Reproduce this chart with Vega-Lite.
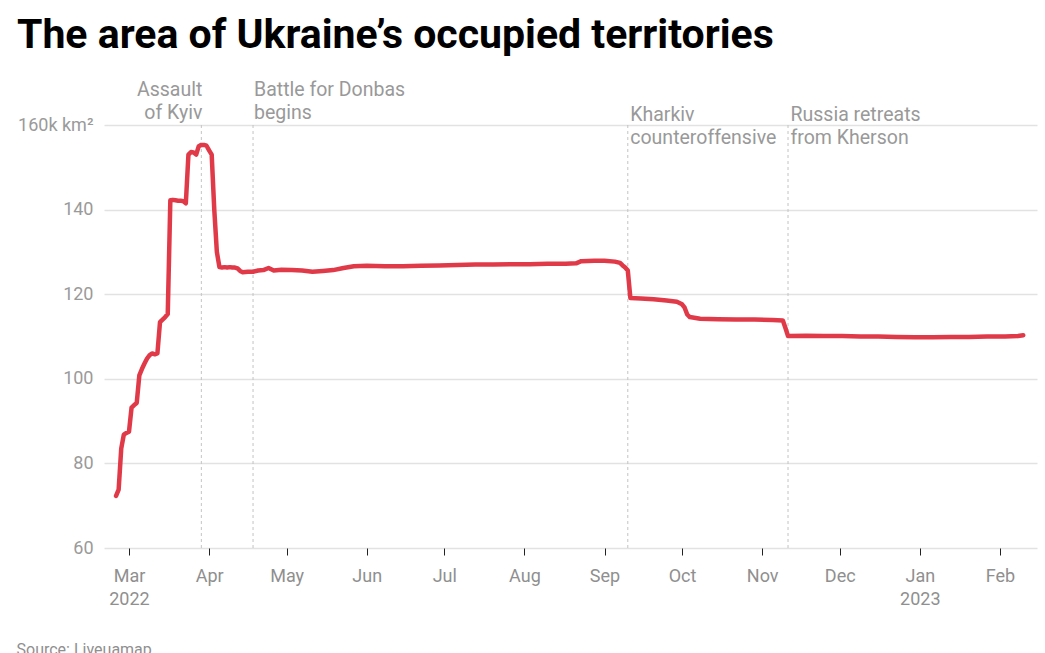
{
  "$schema": "https://vega.github.io/schema/vega-lite/v6.json",
  "width": 933,
  "height": 423,
  "autosize": {"type": "none"},
  "padding": {"left": 104, "top": 125, "right": 8, "bottom": 105},
  "background": "white",
  "title": {
    "text": "The area of Ukraine’s occupied territories",
    "anchor": "start",
    "frame": "group",
    "font": "Roboto",
    "fontSize": 41,
    "fontWeight": "bold",
    "color": "#000000",
    "dx": -87,
    "offset": 23
  },
  "config": {
    "view": {"stroke": null},
    "font": "Roboto"
  },
  "datasets": {
    "area": [
      {"date": "2022-02-24", "value": 72.3},
      {"date": "2022-02-25", "value": 73.8},
      {"date": "2022-02-26", "value": 83.5},
      {"date": "2022-02-27", "value": 86.8},
      {"date": "2022-02-28", "value": 87.2},
      {"date": "2022-03-01", "value": 87.5},
      {"date": "2022-03-02", "value": 93.2},
      {"date": "2022-03-03", "value": 93.8},
      {"date": "2022-03-04", "value": 94.3},
      {"date": "2022-03-05", "value": 100.8},
      {"date": "2022-03-06", "value": 102.3},
      {"date": "2022-03-07", "value": 103.6},
      {"date": "2022-03-08", "value": 104.8},
      {"date": "2022-03-09", "value": 105.6},
      {"date": "2022-03-10", "value": 106.0},
      {"date": "2022-03-11", "value": 105.8},
      {"date": "2022-03-12", "value": 106.0},
      {"date": "2022-03-13", "value": 113.4},
      {"date": "2022-03-14", "value": 114.0},
      {"date": "2022-03-15", "value": 114.6},
      {"date": "2022-03-16", "value": 115.3},
      {"date": "2022-03-17", "value": 142.2},
      {"date": "2022-03-18", "value": 142.3},
      {"date": "2022-03-19", "value": 142.2},
      {"date": "2022-03-20", "value": 142.1},
      {"date": "2022-03-21", "value": 142.1},
      {"date": "2022-03-22", "value": 142.0},
      {"date": "2022-03-23", "value": 141.5},
      {"date": "2022-03-24", "value": 153.0},
      {"date": "2022-03-25", "value": 153.6},
      {"date": "2022-03-26", "value": 153.5},
      {"date": "2022-03-27", "value": 153.0},
      {"date": "2022-03-28", "value": 155.0},
      {"date": "2022-03-29", "value": 155.3},
      {"date": "2022-03-30", "value": 155.3},
      {"date": "2022-03-31", "value": 155.1},
      {"date": "2022-04-01", "value": 154.0},
      {"date": "2022-04-02", "value": 153.0},
      {"date": "2022-04-03", "value": 140.0},
      {"date": "2022-04-04", "value": 130.0},
      {"date": "2022-04-05", "value": 126.4},
      {"date": "2022-04-06", "value": 126.3},
      {"date": "2022-04-07", "value": 126.4},
      {"date": "2022-04-08", "value": 126.3},
      {"date": "2022-04-09", "value": 126.4},
      {"date": "2022-04-10", "value": 126.3},
      {"date": "2022-04-11", "value": 126.3},
      {"date": "2022-04-12", "value": 126.1},
      {"date": "2022-04-13", "value": 125.5},
      {"date": "2022-04-14", "value": 125.2},
      {"date": "2022-04-16", "value": 125.3},
      {"date": "2022-04-18", "value": 125.3},
      {"date": "2022-04-20", "value": 125.6},
      {"date": "2022-04-22", "value": 125.7},
      {"date": "2022-04-24", "value": 126.2},
      {"date": "2022-04-26", "value": 125.6},
      {"date": "2022-04-29", "value": 125.8},
      {"date": "2022-05-03", "value": 125.7},
      {"date": "2022-05-07", "value": 125.6},
      {"date": "2022-05-11", "value": 125.3},
      {"date": "2022-05-15", "value": 125.5},
      {"date": "2022-05-19", "value": 125.7},
      {"date": "2022-05-23", "value": 126.2},
      {"date": "2022-05-27", "value": 126.6},
      {"date": "2022-06-01", "value": 126.7},
      {"date": "2022-06-08", "value": 126.6},
      {"date": "2022-06-15", "value": 126.6},
      {"date": "2022-06-22", "value": 126.7},
      {"date": "2022-06-29", "value": 126.8},
      {"date": "2022-07-06", "value": 126.9},
      {"date": "2022-07-13", "value": 127.0},
      {"date": "2022-07-20", "value": 127.0},
      {"date": "2022-07-27", "value": 127.1},
      {"date": "2022-08-03", "value": 127.1},
      {"date": "2022-08-10", "value": 127.2},
      {"date": "2022-08-17", "value": 127.2},
      {"date": "2022-08-21", "value": 127.3},
      {"date": "2022-08-23", "value": 127.8},
      {"date": "2022-08-28", "value": 127.9},
      {"date": "2022-09-01", "value": 127.9},
      {"date": "2022-09-05", "value": 127.7},
      {"date": "2022-09-07", "value": 127.4},
      {"date": "2022-09-08", "value": 126.8},
      {"date": "2022-09-09", "value": 126.3},
      {"date": "2022-09-10", "value": 125.6},
      {"date": "2022-09-11", "value": 119.1},
      {"date": "2022-09-15", "value": 119.0},
      {"date": "2022-09-20", "value": 118.8},
      {"date": "2022-09-25", "value": 118.5},
      {"date": "2022-09-29", "value": 118.2},
      {"date": "2022-10-01", "value": 117.6},
      {"date": "2022-10-02", "value": 116.8},
      {"date": "2022-10-03", "value": 115.2},
      {"date": "2022-10-04", "value": 114.6},
      {"date": "2022-10-08", "value": 114.2},
      {"date": "2022-10-15", "value": 114.1},
      {"date": "2022-10-22", "value": 114.0},
      {"date": "2022-10-29", "value": 114.0},
      {"date": "2022-11-05", "value": 113.9},
      {"date": "2022-11-09", "value": 113.8},
      {"date": "2022-11-10", "value": 112.0},
      {"date": "2022-11-11", "value": 110.1},
      {"date": "2022-11-18", "value": 110.2},
      {"date": "2022-11-25", "value": 110.1},
      {"date": "2022-12-02", "value": 110.1},
      {"date": "2022-12-09", "value": 110.0},
      {"date": "2022-12-16", "value": 110.0},
      {"date": "2022-12-23", "value": 109.9},
      {"date": "2022-12-30", "value": 109.8},
      {"date": "2023-01-06", "value": 109.8},
      {"date": "2023-01-13", "value": 109.9},
      {"date": "2023-01-20", "value": 109.9},
      {"date": "2023-01-27", "value": 110.0},
      {"date": "2023-02-03", "value": 110.0},
      {"date": "2023-02-08", "value": 110.1},
      {"date": "2023-02-10", "value": 110.3}
    ],
    "events": [
      {"date": "2022-03-29", "event": "Assault\nof Kyiv"},
      {"date": "2022-04-18", "event": "Battle for Donbas\nbegins"},
      {"date": "2022-09-10", "event": "Kharkiv\ncounteroffensive"},
      {"date": "2022-11-11", "event": "Russia retreats\nfrom Kherson"}
    ]
  },
  "layer": [
    {
      "data": {"name": "events"},
      "mark": {"type": "rule", "color": "#c4c4c4", "strokeWidth": 1, "strokeDash": [3, 3]},
      "encoding": {
        "x": {"field": "date", "type": "temporal"},
        "y": {"datum": 60},
        "y2": {"datum": 160}
      }
    },
    {
      "data": {"name": "area"},
      "mark": {"type": "line", "color": "#e03a49", "strokeWidth": 4.5, "strokeJoin": "round", "strokeCap": "round"},
      "encoding": {
        "x": {
          "field": "date",
          "type": "temporal",
          "scale": {
            "type": "utc",
            "domain": [
              {"year": 2022, "month": "feb", "date": 19, "hours": 8, "utc": true},
              {"year": 2023, "month": "feb", "date": 15, "hours": 8, "utc": true}
            ]
          },
          "axis": {
            "values": [
              {"year": 2022, "month": "mar", "date": 1, "utc": true},
              {"year": 2022, "month": "apr", "date": 1, "utc": true},
              {"year": 2022, "month": "may", "date": 1, "utc": true},
              {"year": 2022, "month": "jun", "date": 1, "utc": true},
              {"year": 2022, "month": "jul", "date": 1, "utc": true},
              {"year": 2022, "month": "aug", "date": 1, "utc": true},
              {"year": 2022, "month": "sep", "date": 1, "utc": true},
              {"year": 2022, "month": "oct", "date": 1, "utc": true},
              {"year": 2022, "month": "nov", "date": 1, "utc": true},
              {"year": 2022, "month": "dec", "date": 1, "utc": true},
              {"year": 2023, "month": "jan", "date": 1, "utc": true},
              {"year": 2023, "month": "feb", "date": 1, "utc": true}
            ],
            "labelExpr": "[utcFormat(datum.value, '%b'), ((utcmonth(datum.value) == 2 && utcyear(datum.value) == 2022) || utcmonth(datum.value) == 0) ? utcFormat(datum.value, '%Y') : '']",
            "labelFontSize": 18,
            "labelColor": "#8f8f8f",
            "labelFont": "Roboto",
            "labelLineHeight": 23,
            "labelPadding": 12,
            "labelFlush": false,
            "labelOverlap": false,
            "domain": false,
            "grid": false,
            "ticks": true,
            "tickColor": "#222222",
            "tickSize": 7,
            "tickWidth": 1,
            "title": "Source: Liveuamap",
            "titleAnchor": "start",
            "titleAlign": "left",
            "titleBaseline": "alphabetic",
            "titleX": -88,
            "titleY": 106,
            "titleFont": "Roboto",
            "titleFontSize": 16,
            "titleFontWeight": "normal",
            "titleColor": "#8f8f8f"
          }
        },
        "y": {
          "field": "value",
          "type": "quantitative",
          "scale": {"domain": [60, 160], "nice": false, "zero": false},
          "axis": {
            "values": [60, 80, 100, 120, 140, 160],
            "labelExpr": "datum.value == 160 ? '160k km²' : datum.label",
            "labelFontSize": 18,
            "labelColor": "#9a9a9a",
            "labelFont": "Roboto",
            "labelPadding": 11,
            "domain": false,
            "ticks": false,
            "grid": true,
            "gridColor": "#e2e2e2",
            "gridWidth": 1.5,
            "title": null
          }
        }
      }
    },
    {
      "data": {"name": "events"},
      "transform": [{"filter": "datum.event == 'Assault\\nof Kyiv'"}],
      "mark": {"type": "text", "align": "right", "baseline": "alphabetic", "dx": 1, "dy": -29, "fontSize": 19.5, "color": "#999999", "lineBreak": "\n", "lineHeight": 23, "font": "Roboto"},
      "encoding": {
        "x": {"field": "date", "type": "temporal"},
        "y": {"datum": 160},
        "text": {"field": "event"}
      }
    },
    {
      "data": {"name": "events"},
      "transform": [{"filter": "datum.event == 'Battle for Donbas\\nbegins'"}],
      "mark": {"type": "text", "align": "left", "baseline": "alphabetic", "dx": 1, "dy": -29, "fontSize": 19.5, "color": "#999999", "lineBreak": "\n", "lineHeight": 23, "font": "Roboto"},
      "encoding": {
        "x": {"field": "date", "type": "temporal"},
        "y": {"datum": 160},
        "text": {"field": "event"}
      }
    },
    {
      "data": {"name": "events"},
      "transform": [{"filter": "datum.event == 'Kharkiv\\ncounteroffensive' || datum.event == 'Russia retreats\\nfrom Kherson'"}],
      "mark": {"type": "text", "align": "left", "baseline": "alphabetic", "dx": 2.5, "dy": -4.5, "fontSize": 19.5, "color": "#999999", "lineBreak": "\n", "lineHeight": 23, "font": "Roboto"},
      "encoding": {
        "x": {"field": "date", "type": "temporal"},
        "y": {"datum": 160},
        "text": {"field": "event"}
      }
    }
  ]
}
